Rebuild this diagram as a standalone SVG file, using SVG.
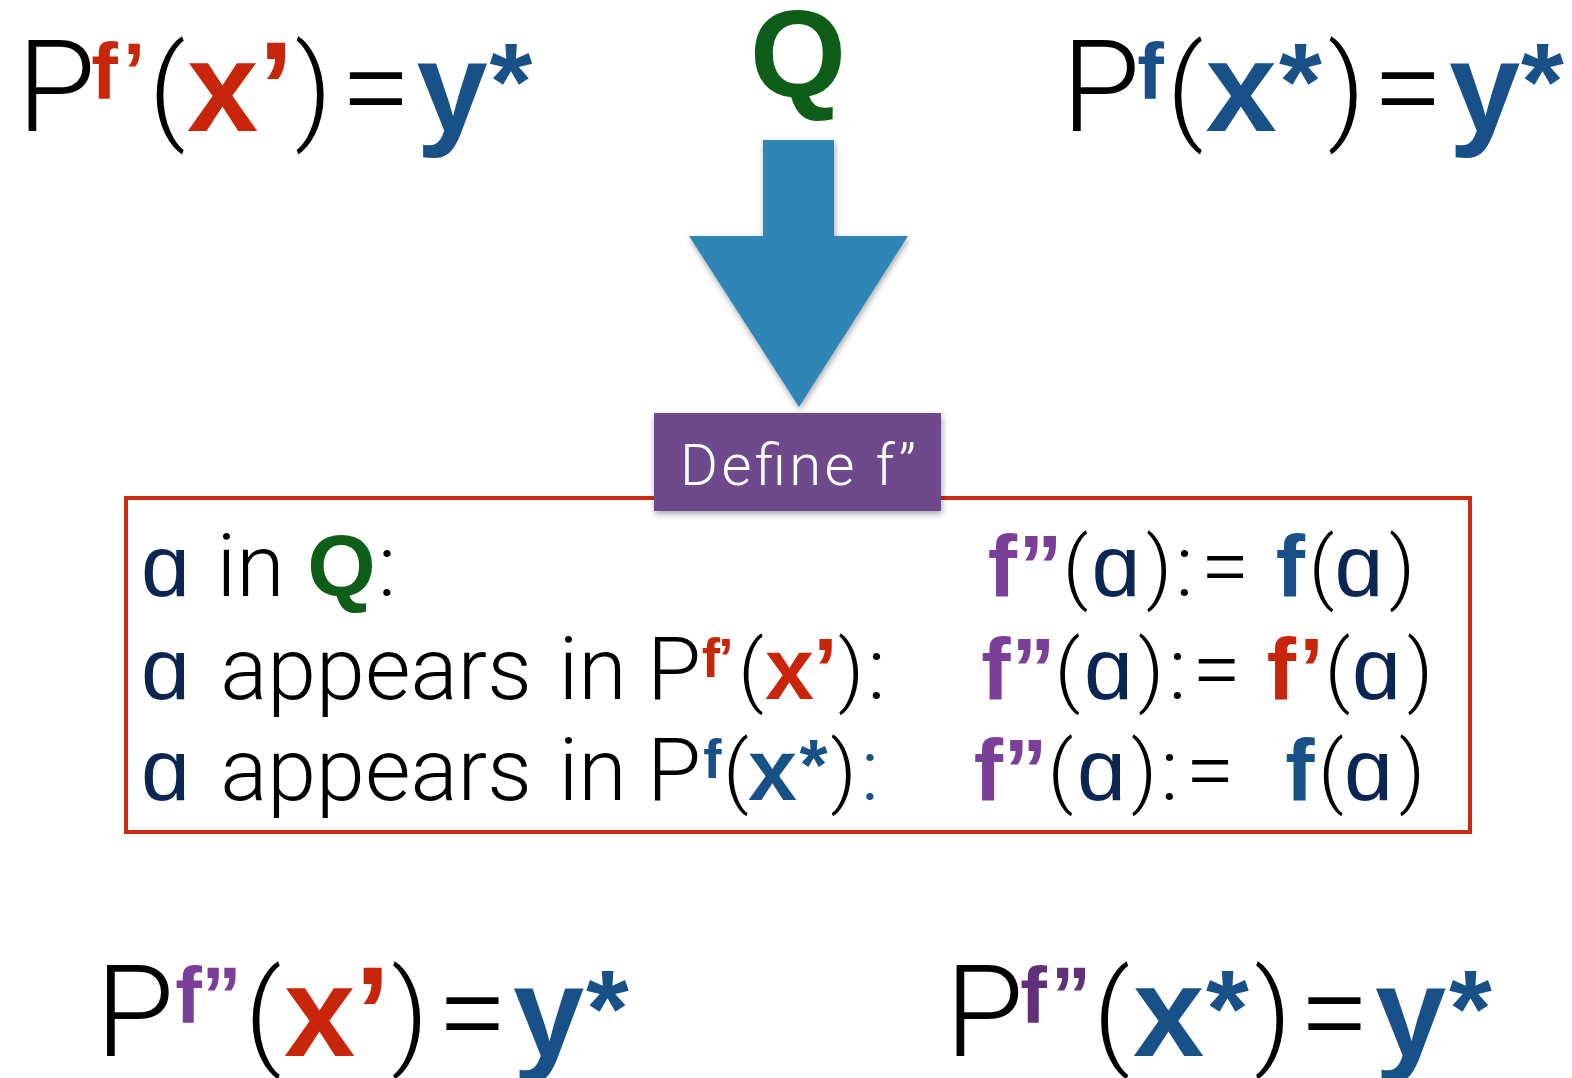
<svg xmlns="http://www.w3.org/2000/svg" width="1572" height="1078" viewBox="0 0 1572 1078">
<defs>
<style>
text{text-anchor:middle}
.big{font-size:128px}
.mid{font-size:88px}
.lt{font-family:Roboto,"Liberation Sans",Arial,sans-serif;font-weight:300;fill:#000}
.bd{font-family:"Liberation Sans",Arial,sans-serif;font-weight:700}
.al{font-family:"Liberation Sans","DejaVu Sans",sans-serif;font-weight:400;fill:#0b2653}
.red{fill:#c9250b}
.blu{fill:#185088}
.pur{fill:#7b3f99}
.dpur{fill:#5f3179}
.grn{fill:#0e5e1a}
.sup{font-size:80px}
.sup2{font-size:55px}
.pb{font-size:115px}
.pm{font-size:80px}
.ab{font-size:110px}
.am{font-size:72px}
</style>
<filter id="shadow" x="-20%" y="-20%" width="140%" height="140%">
<feDropShadow dx="1" dy="3" stdDeviation="3" flood-color="#000" flood-opacity="0.35"/>
</filter>
</defs>
<rect width="1572" height="1078" fill="#fff"/>

<g id="formula-top-left">
<text class="big" y="131"><tspan class="lt" x="56.5">P</tspan><tspan class="bd red sup" x="104.5" y="99">f</tspan><tspan class="bd red sup" x="134" y="99">’</tspan><tspan class="lt pb" x="167" y="128">(</tspan><tspan class="bd red" x="222.5" y="131">x</tspan><tspan class="bd red" x="276" y="131">’</tspan><tspan class="lt pb" x="313.5" y="128">)</tspan><tspan class="lt" x="376" y="131">=</tspan><tspan class="bd blu" x="452" y="131">y</tspan><tspan class="bd blu ab" x="511" y="119">*</tspan></text>
</g>

<g id="q-label">
<text class="bd grn" x="798" y="97" style="font-size:124px">Q</text>
</g>

<g id="formula-top-right">
<text class="big" y="131"><tspan class="lt" x="1101">P</tspan><tspan class="bd blu sup" x="1150.5" y="99">f</tspan><tspan class="lt pb" x="1185" y="128">(</tspan><tspan class="bd blu" x="1241" y="131">x</tspan><tspan class="bd blu ab" x="1300.5" y="119">*</tspan><tspan class="lt pb" x="1346.5" y="128">)</tspan><tspan class="lt" x="1408" y="131">=</tspan><tspan class="bd blu" x="1484.5" y="131">y</tspan><tspan class="bd blu ab" x="1542.5" y="119">*</tspan></text>
</g>

<g id="connectors">
<polygon points="763,140 834,140 834,236 908,236 799,407 689,236 763,236" fill="#2f85b6" filter="url(#shadow)"/>
</g>

<g id="definition-box">
<rect x="126" y="498" width="1344" height="334" fill="none" stroke="#cc2a0f" stroke-width="4"/>
<text class="mid" y="596"><tspan class="al" x="165.5">ɑ</tspan><tspan class="lt" x="250.5" y="596">in</tspan><tspan class="bd grn" x="341.5" y="596">Q</tspan><tspan class="lt" x="387" y="596">:</tspan></text>
<text class="mid" y="596"><tspan class="bd pur" x="1002.5">f</tspan><tspan class="bd pur" x="1040.5" y="596">”</tspan><tspan class="lt pm" x="1075.5" y="594">(</tspan><tspan class="al" x="1116" y="596">ɑ</tspan><tspan class="lt pm" x="1159" y="594">)</tspan><tspan class="lt" x="1184.5" y="596">:</tspan><tspan class="lt" x="1225" y="596">=</tspan><tspan class="bd blu" x="1290.5" y="596">f</tspan><tspan class="lt pm" x="1321.5" y="594">(</tspan><tspan class="al" x="1359" y="596">ɑ</tspan><tspan class="lt pm" x="1402" y="594">)</tspan></text>

<text class="mid" y="699"><tspan class="al" x="165.5">ɑ</tspan><tspan class="lt" x="376" y="699">appears</tspan><tspan class="lt" x="592.5" y="699">in</tspan><tspan class="lt" x="674" y="699">P</tspan><tspan class="bd red sup2" x="711" y="677">f</tspan><tspan class="bd red sup2" x="726" y="677">’</tspan><tspan class="lt pm" x="751" y="697">(</tspan><tspan class="bd red" x="789.5" y="699">x</tspan><tspan class="bd red" x="825.5" y="699">’</tspan><tspan class="lt pm" x="851" y="697">)</tspan><tspan class="lt" x="876.5" y="699">:</tspan></text>
<text class="mid" y="699"><tspan class="bd pur" x="996">f</tspan><tspan class="bd pur" x="1033.5" y="699">”</tspan><tspan class="lt pm" x="1067.5" y="697">(</tspan><tspan class="al" x="1108.5" y="699">ɑ</tspan><tspan class="lt pm" x="1151" y="697">)</tspan><tspan class="lt" x="1177.5" y="699">:</tspan><tspan class="lt" x="1216.5" y="699">=</tspan><tspan class="bd red" x="1281.5" y="699">f</tspan><tspan class="bd red" x="1311.5" y="699">’</tspan><tspan class="lt pm" x="1337.5" y="697">(</tspan><tspan class="al" x="1376.5" y="699">ɑ</tspan><tspan class="lt pm" x="1420" y="697">)</tspan></text>

<text class="mid" y="800"><tspan class="al" x="165.5">ɑ</tspan><tspan class="lt" x="376" y="800">appears</tspan><tspan class="lt" x="592.5" y="800">in</tspan><tspan class="lt" x="674" y="800">P</tspan><tspan class="bd blu sup2" x="712.5" y="778">f</tspan><tspan class="lt pm" x="736" y="798">(</tspan><tspan class="bd blu" x="772.5" y="800">x</tspan><tspan class="bd blu am" x="813.5" y="790">*</tspan><tspan class="lt pm" x="843.5" y="798">)</tspan><tspan class="lt blu" x="870" y="800">:</tspan></text>
<text class="mid" y="800"><tspan class="bd pur" x="988.5">f</tspan><tspan class="bd pur" x="1025.5" y="800">”</tspan><tspan class="lt pm" x="1060.5" y="798">(</tspan><tspan class="al" x="1101.5" y="800">ɑ</tspan><tspan class="lt pm" x="1144" y="798">)</tspan><tspan class="lt" x="1169.5" y="800">:</tspan><tspan class="lt" x="1210" y="800">=</tspan><tspan class="bd blu" x="1300" y="800">f</tspan><tspan class="lt pm" x="1331" y="798">(</tspan><tspan class="al" x="1368.5" y="800">ɑ</tspan><tspan class="lt pm" x="1412" y="798">)</tspan></text>
</g>

<g id="define-label">
<rect x="654" y="413" width="287" height="98" fill="#6e4a8c" filter="url(#shadow)"/>
<text class="lt" x="798" y="485" textLength="236" lengthAdjust="spacing" style="font-size:58px;fill:#fff">Define f”</text>
</g>

<g id="formula-bottom-left">
<text class="big" y="1056"><tspan class="lt" x="135">P</tspan><tspan class="bd pur sup" x="188.5" y="1023">f</tspan><tspan class="bd pur sup" x="221.5" y="1023">”</tspan><tspan class="lt pb" x="263" y="1053">(</tspan><tspan class="bd red" x="319.5" y="1056">x</tspan><tspan class="bd red" x="372.5" y="1056">’</tspan><tspan class="lt pb" x="410" y="1053">)</tspan><tspan class="lt" x="472.5" y="1056">=</tspan><tspan class="bd blu" x="548.5" y="1056">y</tspan><tspan class="bd blu ab" x="607.5" y="1046">*</tspan></text>
</g>

<g id="formula-bottom-right">
<text class="big" y="1056"><tspan class="lt" x="984.5">P</tspan><tspan class="bd dpur sup" x="1033.5" y="1023">f</tspan><tspan class="bd dpur sup" x="1071" y="1023">”</tspan><tspan class="lt pb" x="1111.5" y="1053">(</tspan><tspan class="bd blu" x="1168.5" y="1056">x</tspan><tspan class="bd blu ab" x="1227.5" y="1046">*</tspan><tspan class="lt pb" x="1273" y="1053">)</tspan><tspan class="lt" x="1334.5" y="1056">=</tspan><tspan class="bd blu" x="1410.5" y="1056">y</tspan><tspan class="bd blu ab" x="1470.5" y="1046">*</tspan></text>
</g>
</svg>
